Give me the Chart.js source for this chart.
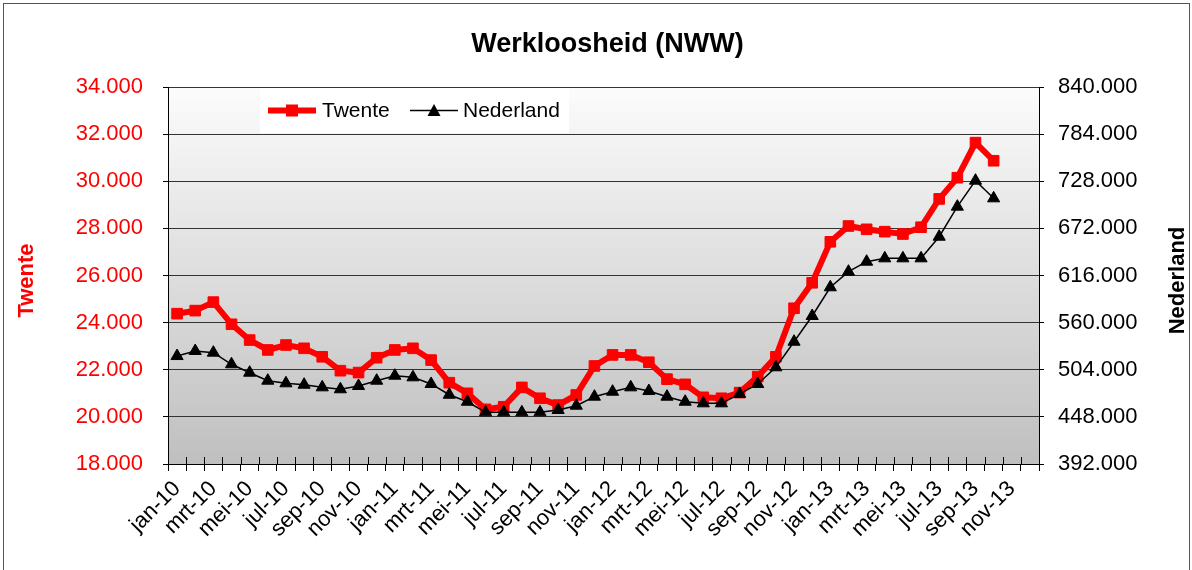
<!DOCTYPE html>
<html>
<head>
<meta charset="utf-8">
<script src="https://cdn.jsdelivr.net/npm/chart.js@4.4.0/dist/chart.umd.min.js"></script>
<style>
  html, body { margin: 0; padding: 0; background: #fff; }
  #frame { position: absolute; left: 3px; top: 3px; width: 1187px; height: 600px; border: 1px solid #555; box-sizing: border-box; }
  #wrap { position: absolute; left: 0; top: 0; width: 1192px; height: 570px; }
</style>
</head>
<body>
<div id="frame"></div>
<div id="wrap"><canvas id="chart" width="1192" height="570"></canvas></div>
<script>
// months jan-10 .. dec-13, data up to okt-13
const months = [
  'jan-10','feb-10','mrt-10','apr-10','mei-10','jun-10','jul-10','aug-10','sep-10','okt-10','nov-10','dec-10',
  'jan-11','feb-11','mrt-11','apr-11','mei-11','jun-11','jul-11','aug-11','sep-11','okt-11','nov-11','dec-11',
  'jan-12','feb-12','mrt-12','apr-12','mei-12','jun-12','jul-12','aug-12','sep-12','okt-12','nov-12','dec-12',
  'jan-13','feb-13','mrt-13','apr-13','mei-13','jun-13','jul-13','aug-13','sep-13','okt-13','nov-13','dec-13'
];

const twente = [
  24380, 24510, 24870, 23930, 23260, 22840, 23050, 22910, 22550, 21960, 21880, 22510,
  22840, 22910, 22410, 21450, 21000, 20320, 20430, 21250, 20790, 20500, 20930, 22160,
  22630, 22630, 22320, 21600, 21380, 20830, 20790, 21030, 21710, 22550, 24610, 25690,
  27430, 28100, 27960, 27860, 27760, 28050, 29250, 30150, 31640, 30870
];

const nederland = [
  520300, 526300, 524300, 510500, 500500, 491000, 487900, 486200, 483100, 480800, 484700, 491000,
  496900, 495000, 487100, 474300, 466000, 453400, 453400, 453400, 453400, 456200, 461300, 472000,
  477900, 483100, 478700, 472000, 466000, 464100, 464100, 475200, 487100, 506900, 537300, 567900,
  602000, 620500, 632400, 636400, 636400, 636400, 662100, 697800, 728700, 707700
];

const titleText = 'Werkloosheid (NWW)';
const leftTitle = 'Twente';
const rightTitle = 'Nederland';
const FONT = "'Liberation Sans', Arial, sans-serif";

function dots(v) {
  return String(v).replace(/\B(?=(\d{3})+(?!\d))/g, '.');
}

const backdrop = {
  id: 'backdrop',
  beforeDraw(chart) {
    const { ctx, chartArea: a } = chart;
    const g = ctx.createLinearGradient(0, a.top, 0, a.bottom);
    g.addColorStop(0, '#fcfcfc');
    g.addColorStop(1, '#bfbfbf');
    ctx.save();
    ctx.fillStyle = g;
    ctx.fillRect(a.left, a.top, a.right - a.left, a.bottom - a.top);
    ctx.restore();
  },
  afterDraw(chart) {
    const { ctx, chartArea: a } = chart;
    ctx.save();
    // title
    ctx.font = 'bold 27px ' + FONT;
    ctx.fillStyle = '#000';
    ctx.textAlign = 'center';
    ctx.textBaseline = 'middle';
    ctx.fillText(titleText, (a.left + a.right) / 2 + 4, 45);

    // axis titles, both reading upwards
    const midY = (a.top + a.bottom) / 2 + 5;
    ctx.font = 'bold 22px ' + FONT;
    ctx.save();
    ctx.translate(27, midY);
    ctx.rotate(-Math.PI / 2);
    ctx.fillStyle = '#ff0000';
    ctx.fillText(leftTitle, 0, 0);
    ctx.restore();
    ctx.save();
    ctx.translate(1178, midY);
    ctx.rotate(-Math.PI / 2);
    ctx.fillStyle = '#000';
    ctx.fillText(rightTitle, 0, 0);
    ctx.restore();

    // small ticks above the category axis
    const xs = chart.scales.x;
    const n = months.length;
    ctx.strokeStyle = '#000';
    ctx.lineWidth = 1;
    ctx.beginPath();
    for (let i = 0; i <= n; i++) {
      const x = Math.round(xs.left + i * (xs.right - xs.left) / n) + 0.5;
      ctx.moveTo(x, a.bottom - 7);
      ctx.lineTo(x, a.bottom);
    }
    ctx.stroke();

    // legend box
    const lx = a.left + 92, ly = a.top + 1, lw = 309, lh = 45;
    ctx.fillStyle = '#fff';
    ctx.fillRect(lx, ly, lw, lh);
    const cy = ly + lh / 2;
    const ds = chart.data.datasets;
    ctx.strokeStyle = ds[1].borderColor;
    ctx.lineWidth = ds[1].borderWidth;
    ctx.beginPath();
    ctx.moveTo(lx + 8, cy); ctx.lineTo(lx + 56, cy); ctx.stroke();
    ctx.fillStyle = ds[1].borderColor;
    ctx.fillRect(lx + 32 - 6, cy - 6, 12, 12);
    ctx.strokeStyle = ds[0].borderColor;
    ctx.lineWidth = ds[0].borderWidth;
    ctx.beginPath();
    ctx.moveTo(lx + 150, cy); ctx.lineTo(lx + 198, cy); ctx.stroke();
    ctx.fillStyle = '#000';
    ctx.beginPath();
    ctx.moveTo(lx + 174, cy - 6.5);
    ctx.lineTo(lx + 180.5, cy + 5.5);
    ctx.lineTo(lx + 167.5, cy + 5.5);
    ctx.closePath();
    ctx.fill();
    ctx.font = '21px ' + FONT;
    ctx.textAlign = 'left';
    ctx.fillText(ds[1].label, lx + 62, cy + 1);
    ctx.fillText(ds[0].label, lx + 203, cy + 1);
    ctx.restore();
  }
};

new Chart(document.getElementById('chart'), {
  type: 'line',
  data: {
    labels: months,
    datasets: [
      {
        label: 'Nederland',
        data: nederland,
        yAxisID: 'y1',
        borderColor: '#000',
        backgroundColor: '#000',
        borderWidth: 1.5,
        pointStyle: 'triangle',
        pointRadius: 7,
        pointBorderWidth: 1,
        tension: 0,
        order: 0
      },
      {
        label: 'Twente',
        data: twente,
        yAxisID: 'y',
        borderColor: '#ff0000',
        backgroundColor: '#ff0000',
        borderWidth: 6,
        pointStyle: 'rect',
        pointRadius: 7.5,
        pointBorderWidth: 1,
        tension: 0,
        order: 1
      }
    ]
  },
  options: {
    responsive: false,
    animation: false,
    devicePixelRatio: 1,
    layout: { padding: { top: 87, left: 0, right: 0, bottom: 0 } },
    plugins: {
      legend: { display: false },
      title: { display: false },
      tooltip: { enabled: false }
    },
    scales: {
      x: {
        type: 'category',
        offset: true,
        afterFit(s) { s.height = 106; },
        grid: { offset: true, drawOnChartArea: false, tickLength: 7, color: '#000' },
        border: { color: '#000', width: 1 },
        ticks: {
          autoSkip: false,
          maxRotation: 45,
          minRotation: 45,
          padding: 5,
          color: '#000',
          font: { family: FONT, size: 22 },
          callback: function (v, i) { return i % 2 === 0 ? this.getLabelForValue(v) : ''; }
        }
      },
      y: {
        position: 'left',
        min: 18000,
        max: 34000,
        afterFit(s) { s.width = 168; },
        grid: { color: '#333', tickLength: 5, tickColor: '#000' },
        border: { color: '#000', width: 1 },
        ticks: {
          stepSize: 2000,
          padding: 20,
          color: '#ff0000',
          font: { family: FONT, size: 22 },
          callback: v => dots(v)
        }
      },
      y1: {
        position: 'right',
        min: 392000,
        max: 840000,
        afterFit(s) { s.width = 153; },
        grid: { drawOnChartArea: false, tickLength: 5, tickColor: '#000' },
        border: { color: '#000', width: 1 },
        ticks: {
          stepSize: 56000,
          padding: 14,
          color: '#000',
          font: { family: FONT, size: 22 },
          callback: v => dots(v)
        }
      }
    }
  },
  plugins: [backdrop]
});
</script>
</body>
</html>
